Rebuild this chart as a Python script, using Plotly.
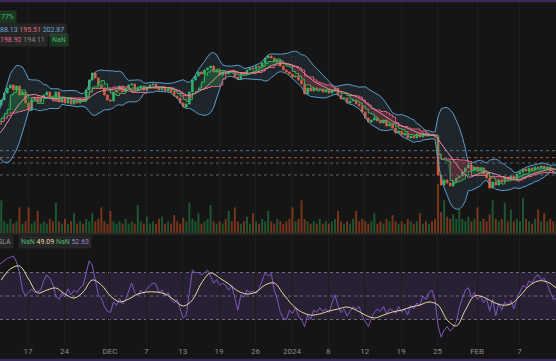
import numpy as np
import plotly.graph_objects as go

# ---------------- data ----------------
BARS_PER_DAY = 3
FIRST_DAY = -6          # trading-day index of first bar (Nov 9, 2023); Nov 17 = 0
first_open = 209.0

closes = [
    209.4, 208.2, 210.0, 209.4, 210.6, 211.2, 212.4, 213.6, 215.4,
    231.0, 234.0, 238.2, 241.2, 243.0, 240.0, 242.4, 237.0, 238.8, 232.2,
    228.0, 234.0, 235.8, 232.8, 235.2, 237.0, 238.8, 235.8, 234.0, 238.8,
    232.8, 235.2, 232.2, 234.6, 231.6, 234.0, 232.2, 234.6, 233.4, 240.0,
    246.0, 250.2, 247.2, 243.0, 241.2, 237.0, 234.0, 233.4, 238.8, 240.0,
    242.4, 238.8, 241.2, 243.0, 243.6, 240.0, 241.2, 242.4, 240.0, 241.8,
    243.0, 243.6, 241.2, 240.0, 241.8, 239.4, 240.6, 238.8, 236.4, 235.2,
    232.2, 229.8, 231.6, 238.8, 246.0, 248.4, 250.8, 249.6, 252.0, 253.2,
    254.4, 250.8, 252.0, 249.0, 250.8, 249.6, 251.4, 250.8, 247.8, 246.6,
    250.2, 249.6, 252.0, 253.2, 252.6, 254.4, 253.8, 256.2, 259.2, 260.4,
    259.2, 256.8, 258.0, 254.4, 252.0, 250.8, 249.6, 247.8, 248.4, 246.0,
    243.6, 237.6, 241.2, 239.4, 241.2, 240.0, 240.6, 238.8, 240.0, 238.2,
    239.4, 241.2, 237.0, 234.6, 235.2, 232.2, 233.4, 234.0, 231.6, 230.4,
    226.8, 223.2, 220.8, 222.0, 223.2, 221.4, 220.2, 222.0, 218.4, 219.6,
    217.2, 214.2, 215.4, 213.0, 214.2, 211.2, 212.4, 211.2, 213.6, 211.8,
    214.2, 212.4, 213.6, 213.0, 211.8, 189.0, 183.0, 186.0, 184.2, 182.4,
    184.8, 187.2, 188.4, 190.8, 193.2, 195.0, 192.0, 193.8, 191.4, 193.2,
    189.6, 187.2, 181.2, 184.8, 183.0, 186.0, 184.8, 187.8, 186.0, 188.4,
    186.6, 189.6, 190.8, 192.6, 191.4, 193.2, 192.0, 193.8, 193.2, 194.4,
    192.6, 193.8, 191.4, 190.2, 190.8, 190.8,
]

volumes = [
    6, 5, 7, 5, 6, 8, 7, 6, 9,
    6, 14, 5, 4, 6, 4, 5, 11, 4, 5, 11, 4, 5, 9.5, 4, 5, 4, 6, 5, 13,
    5, 4, 6, 4, 5, 8.5, 4, 5, 4, 6, 5, 8.5, 5, 6, 11, 5, 4, 9.5, 5, 4,
    5, 4, 6, 4, 5, 4, 12, 5, 4, 7, 4, 5, 4, 6, 7, 4, 5, 4, 7.7, 5,
    4, 6.5, 5, 13, 6, 5, 8.5, 4, 5, 6, 12, 5, 4, 5, 4, 6, 9.5, 5, 11, 5,
    4, 5, 7, 4, 8.5, 5, 4, 6, 5, 9.5, 5, 4, 6, 5, 4, 5, 6, 11, 5, 6,
    14, 6, 5, 4, 5, 4, 6, 4, 5, 4, 5, 6, 9.5, 5, 4, 5, 4, 6, 9.5, 5,
    6, 5, 4, 5, 8.5, 4, 5, 4, 6, 5, 7.7, 5, 4, 5, 4, 6, 5, 4, 5, 8.5,
    4, 5, 4, 5, 6, 21, 9, 14, 7, 6, 8, 6, 10, 6, 5, 7, 5, 6, 11, 5,
    6, 5, 8, 14, 6, 5, 6, 13, 5, 10, 5, 6, 5, 15, 6, 5, 4, 6, 10, 5,
    8.5, 5, 6, 5, 4, 5,
]

# RSI values for the visible bars (from Nov 14 onward)
rsi = [
    76, 78, 80, 82, 83, 84, 79, 70, 55, 50,
    53, 56, 53, 54, 55, 63, 68, 65, 60, 50,
    47, 53, 49, 56, 51, 55, 53, 57, 59, 70,
    80, 76, 62, 51, 48, 41, 37, 36, 45, 42,
    48, 43, 47, 55, 61, 53, 50, 55, 52, 56,
    59, 61, 60, 53, 55, 50, 53, 47, 44, 47,
    38, 31, 34, 55, 72, 70, 70, 68, 70, 72,
    67, 61, 64, 59, 61, 59, 55, 59, 48, 38,
    51, 49, 55, 53, 54, 52, 56, 64, 70, 67,
    69, 55, 47, 36, 31, 30, 38, 35, 40, 33,
    30, 24, 34, 30, 38, 36, 40, 37, 39, 36,
    43, 51, 42, 36, 39, 33, 37, 41, 39, 41,
    33, 28, 24, 31, 36, 39, 37, 41, 35, 39,
    38, 35, 41, 36, 39, 34, 42, 39, 44, 42,
    50, 47, 53, 55, 47, 25, 15, 21, 24, 20,
    23, 28, 40, 48, 55, 57, 49, 53, 47, 50,
    44, 48, 37, 47, 33, 44, 38, 45, 42, 46,
    39, 48, 53, 59, 57, 63, 61, 66, 68, 64,
    65, 60, 53, 47, 48, 50,
]
RSI_FIRST_BAR = 9

# RSI moving average, one value per trading day (Nov 14 .. Feb 13)
rsi_ma_first_day = -3
rsi_ma = [
    63.6, 73.0, 75.5, 64.5, 52.6, 55.0, 56.8, 51.7, 48.3, 53.4,
    63.6, 59.4, 50.0, 45.0, 47.4, 51.7, 53.4, 53.4, 51.7, 46.6,
    41.5, 46.6, 61.0, 69.6, 65.3, 60.2, 54.3, 51.7, 53.4, 59.4,
    61.0, 51.7, 42.3, 36.4, 33.8, 34.7, 37.2, 38.9, 40.6, 38.0,
    33.8, 31.3, 33.8, 36.4, 38.0, 40.6, 42.3, 44.9, 42.3, 29.6,
    24.5, 38.0, 50.0, 49.0, 45.0, 42.3, 43.2, 50.0, 58.5, 62.8,
    62.0, 56.8,
]

price_levels = [203.6, 199.4, 196.2, 189.0]
level_colors = ['#56738a', '#a8553c', '#5e5e5e', '#5e5e5e']

tick_days = [0, 4, 9, 13, 17, 21, 25, 29, 33, 37, 41, 45, 49.35, 54, 58]
tick_text = ['17', '24', 'DEC', '7', '13', '19', '26', '2024', '8', '12', '19', '25', 'FEB', '7', '13']

X_RANGE = [-2.64, 58.46]
PRICE_RANGE = [154.2, 294.0]
VOL_RANGE = [0, 100]
RSI_RANGE = [8.3, 101.06]

# ---------------- derived ----------------
closes = np.array(closes, dtype=float)
n = len(closes)
idx = np.arange(n)
bar_x = FIRST_DAY + idx // BARS_PER_DAY + (idx % BARS_PER_DAY + 0.5) / BARS_PER_DAY
opens = np.concatenate([[first_open], closes[:-1]])
highs = np.maximum(opens, closes)
lows = np.minimum(opens, closes)
up = closes >= opens


def roll(arr, w, fn):
    out = np.full(len(arr), np.nan)
    for i in range(len(arr)):
        seg = arr[max(0, i - w + 1):i + 1]
        out[i] = fn(seg)
    return out

W = 11
basis = roll(closes, W, np.mean)
sd = roll(closes, W, np.std)
bb_up = basis + 2 * sd
bb_lo = basis - 2 * sd

conv = (roll(highs, 4, np.max) + roll(lows, 4, np.min)) / 2
base = (roll(highs, 11, np.max) + roll(lows, 11, np.min)) / 2

BG = '#151515'
fig = go.Figure()

# volume (bottom layer)
vol_colors = np.where(up, 'rgba(38,140,70,0.55)', 'rgba(200,80,35,0.55)')
fig.add_trace(go.Bar(x=bar_x, y=volumes[:n], marker=dict(color=list(vol_colors), line=dict(width=0)),
                     xaxis='x', yaxis='y', hoverinfo='skip'))

# Bollinger bands
fig.add_trace(go.Scatter(x=bar_x, y=bb_up, xaxis='x', yaxis='y2', mode='lines',
                         line=dict(color='#5c9ccc', width=1), hoverinfo='skip'))
fig.add_trace(go.Scatter(x=bar_x, y=bb_lo, xaxis='x', yaxis='y2', mode='lines', fill='tonexty',
                         fillcolor='rgba(80,130,170,0.16)', line=dict(color='#5c9ccc', width=1), hoverinfo='skip'))

# cloud between conversion and base lines, coloured by sign
sign = conv >= base
start = 0
for i in range(1, n + 1):
    if i == n or sign[i] != sign[start]:
        seg = slice(start, min(i + 1, n))
        xs = np.concatenate([bar_x[seg], bar_x[seg][::-1]])
        ys = np.concatenate([conv[seg], base[seg][::-1]])
        col = 'rgba(40,170,80,0.30)' if sign[start] else 'rgba(220,70,90,0.28)'
        fig.add_trace(go.Scatter(x=xs, y=ys, xaxis='x', yaxis='y2', mode='lines', fill='toself',
                                 fillcolor=col, line=dict(width=0), hoverinfo='skip'))
        start = i
fig.add_trace(go.Scatter(x=bar_x, y=base, xaxis='x', yaxis='y2', mode='lines',
                         line=dict(color='#e0607e', width=1, shape='hv'), hoverinfo='skip'))
fig.add_trace(go.Scatter(x=bar_x, y=conv, xaxis='x', yaxis='y2', mode='lines',
                         line=dict(color='#2fae5a', width=1, shape='hv'), hoverinfo='skip'))

# candles
fig.add_trace(go.Candlestick(x=bar_x, open=opens, high=highs, low=lows, close=closes,
                             xaxis='x', yaxis='y2',
                             increasing=dict(line=dict(color='#2ebd5b', width=1), fillcolor='#2ebd5b'),
                             decreasing=dict(line=dict(color='#f0582a', width=1), fillcolor='#f0582a'),
                             hoverinfo='skip'))

# BB basis
fig.add_trace(go.Scatter(x=bar_x, y=basis, xaxis='x', yaxis='y2', mode='lines',
                         line=dict(color='#e88aa0', width=1), hoverinfo='skip'))

# RSI
rsi_x = bar_x[RSI_FIRST_BAR:RSI_FIRST_BAR + len(rsi)]
fig.add_trace(go.Scatter(x=rsi_x, y=rsi, xaxis='x2', yaxis='y3', mode='lines',
                         line=dict(color='#7e57c2', width=1), hoverinfo='skip'))
ma_x = rsi_ma_first_day + np.arange(len(rsi_ma)) + 0.5
fig.add_trace(go.Scatter(x=ma_x, y=rsi_ma, xaxis='x2', yaxis='y3', mode='lines',
                         line=dict(color='#e8d9a0', width=1, shape='spline', smoothing=1.0), hoverinfo='skip'))

shapes = []
for lv, c in zip(price_levels, level_colors):
    shapes.append(dict(type='line', xref='paper', x0=0, x1=1, yref='y2', y0=lv, y1=lv,
                       line=dict(color=c, width=1, dash='dot'), layer='below'))
shapes.append(dict(type='rect', xref='paper', x0=0, x1=1, yref='y3', y0=30, y1=70,
                   fillcolor='rgba(126,87,194,0.18)', line=dict(width=0), layer='below'))
for lv in [70, 50, 30]:
    shapes.append(dict(type='line', xref='paper', x0=0, x1=1, yref='y3', y0=lv, y1=lv,
                       line=dict(color='#6c6c78', width=1, dash='dot'), layer='below'))
shapes.append(dict(type='line', xref='paper', x0=0, x1=1, yref='paper', y0=1 - 234 / 361, y1=1 - 234 / 361,
                   line=dict(color='#262626', width=2)))
shapes.append(dict(type='rect', xref='paper', x0=0, x1=1, yref='paper', y0=0.994, y1=1,
                   fillcolor='#3b2a5c', line=dict(width=0)))
shapes.append(dict(type='rect', xref='paper', x0=0, x1=1, yref='paper', y0=0, y1=0.006,
                   fillcolor='#3b2a5c', line=dict(width=0)))
# edge of a cut-off legend pill on the left of the third legend row
shapes.append(dict(type='rect', xref='paper', yref='paper', x0=0, x1=5 / 556,
                   y0=1 - 45 / 361, y1=1 - 35 / 361, fillcolor='#262626', line=dict(width=0)))

FONT = 'Roboto'
def px_x(p):
    return p / 556
def px_y(p):
    return 1 - p / 361

ann = [
    dict(x=px_x(17), y=px_y(17), xanchor='right', yanchor='middle',
         text='<span style="color:#4caf6a">77%</span>', bgcolor='rgba(40,120,60,0.35)'),
    dict(x=px_x(67), y=px_y(30), xanchor='right', yanchor='middle',
         text='<span style="color:#6aa5d8">88.13</span> <span style="color:#e06c86">195.51</span> '
              '<span style="color:#6aa5d8">202.87</span>', bgcolor='#262626'),
    dict(x=px_x(48), y=px_y(40), xanchor='right', yanchor='middle',
         text='<span style="color:#e06c86">198.92</span> <span style="color:#7b8f7b">194.11</span>', bgcolor='#262626'),
    dict(x=px_x(49), y=px_y(40), xanchor='left', yanchor='middle',
         text='<span style="color:#4caf6a">NaN</span>', bgcolor='rgba(40,120,60,0.35)'),
    dict(x=px_x(14), y=px_y(242), xanchor='right', yanchor='middle',
         text='<span style="color:#9a9a9a">TSLA</span>', bgcolor='#262626'),
    dict(x=px_x(18), y=px_y(242), xanchor='left', yanchor='middle',
         text='<span style="color:#4caf6a">NaN</span> <span style="color:#e8d9a0">49.09</span> '
              '<span style="color:#4caf6a">NaN</span> <span style="color:#9b7fd4">52.63</span>',
         bgcolor='#262626'),
]
for a in ann:
    a.update(xref='paper', yref='paper', showarrow=False, font=dict(family=FONT, size=7), borderpad=2)

tickvals = [d + 0.44 for d in tick_days]
fig.update_layout(
    width=556, height=361, margin=dict(l=0, r=0, t=0, b=0),
    paper_bgcolor=BG, plot_bgcolor=BG, showlegend=False, bargap=0.35,
    xaxis=dict(domain=[0, 1], range=X_RANGE, anchor='y', showticklabels=False, tickvals=tickvals,
               showgrid=True, gridcolor='#1e1e1e', zeroline=False, rangeslider=dict(visible=False), fixedrange=True),
    yaxis=dict(domain=[1 - 233 / 361, 1], range=VOL_RANGE, visible=False, fixedrange=True),
    yaxis2=dict(overlaying='y', anchor='x', range=PRICE_RANGE, visible=False, fixedrange=True),
    xaxis2=dict(domain=[0, 1], range=X_RANGE, anchor='y3', tickvals=tickvals, ticktext=tick_text,
                tickfont=dict(family=FONT, size=8, color='#8a8a8a'), showgrid=True, gridcolor='#1e1e1e',
                zeroline=False, ticks='', showline=False, fixedrange=True),
    yaxis3=dict(domain=[1 - 345 / 361, 1 - 236 / 361], range=RSI_RANGE, visible=False, fixedrange=True),
    shapes=shapes, annotations=ann,
)

fig.write_html('out.html')
